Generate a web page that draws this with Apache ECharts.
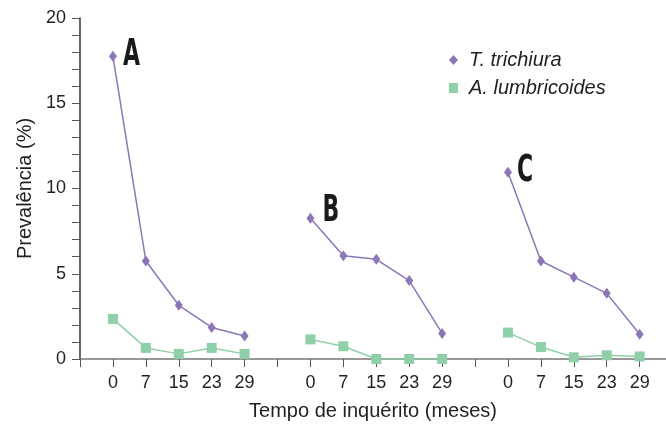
<!DOCTYPE html>
<html><head><meta charset="utf-8">
<script src="https://cdn.jsdelivr.net/npm/echarts@6/dist/echarts.min.js"></script>
<style>html,body{margin:0;padding:0;background:#fff}#c{width:666px;height:426px}</style>
</head><body><div id="c"></div>
<script>
const months = ['0', '7', '15', '23', '29'];
const groups = ['A', 'B', 'C'];
const trichiuraA = [17.75, 5.75, 3.15, 1.85, 1.35];
const trichiuraB = [8.25, 6.05, 5.85, 4.6, 1.5];
const trichiuraC = [10.95, 5.75, 4.8, 3.85, 1.45];
const lumbricoidesA = [2.35, 0.65, 0.3, 0.65, 0.3];
const lumbricoidesB = [1.15, 0.75, 0, 0, 0];
const lumbricoidesC = [1.55, 0.7, 0.1, 0.22, 0.15];
const yTicks = [0, 5, 10, 15, 20];

const perGroup = months.length + 1;
const tGroups = [trichiuraA, trichiuraB, trichiuraC];
function build(groupsVals) {
  const out = [];
  groupsVals.forEach((vals, g) => {
    vals.forEach((v, i) => out.push({ value: [g * perGroup + i + 1, v] }));
    if (g < groupsVals.length - 1) out.push({ value: [g * perGroup + perGroup, '-'] });
  });
  return out;
}
const tickVals = [], labelVals = [], labelMap = {};
for (let k = 0; k <= groups.length * perGroup - 1; k++) tickVals.push(k);
groups.forEach((g, gi) => months.forEach((m, i) => {
  const p = gi * perGroup + i + 1; labelVals.push(p); labelMap[p] = m;
}));

const purple = '#8b76b6', green = '#8fd0a8';
const chart = echarts.init(document.getElementById('c'), null, { renderer: 'canvas' });
chart.setOption({
  animation: false,
  textStyle: { fontFamily: '"Liberation Sans", Arial, sans-serif' },
  grid: { left: 80, right: 0, top: 18, bottom: 67 },
  legend: {
    orient: 'vertical', left: 444, top: 45, itemGap: 8,
    itemWidth: 9, itemHeight: 10,
    textStyle: { fontSize: 20, fontStyle: 'italic', color: '#231f20', padding: [0, 0, 0, 6] },
    data: [{ name: 'T. trichiura', icon: 'diamond' }, { name: 'A. lumbricoides', icon: 'rect' }]
  },
  xAxis: {
    type: 'value', min: 0, max: 17.8,
    name: 'Tempo de inquérito (meses)', nameLocation: 'middle', nameGap: 42,
    nameTextStyle: { fontSize: 20, color: '#231f20' },
    axisLine: { show: true, onZero: false, lineStyle: { color: '#777', width: 1.5 } },
    axisTick: { show: true, length: 8, customValues: tickVals, lineStyle: { color: '#555' } },
    axisLabel: { customValues: labelVals, formatter: v => labelMap[v] || '', fontSize: 18, color: '#231f20', margin: 15 },
    splitLine: { show: false }
  },
  yAxis: {
    type: 'value', min: yTicks[0], max: yTicks[yTicks.length - 1], interval: 5,
    name: 'Prevalência (%)', nameLocation: 'middle', nameGap: 45,
    nameTextStyle: { fontSize: 20, color: '#231f20' },
    axisLine: { show: true, lineStyle: { color: '#333', width: 1.5 } },
    axisTick: { show: true, length: 8, lineStyle: { color: '#555' } },
    minorTick: { show: true, splitNumber: 5, length: 8, lineStyle: { color: '#555' } },
    axisLabel: { fontSize: 18, color: '#231f20', margin: 14 },
    splitLine: { show: false }
  },
  series: [
    {
      name: 'T. trichiura', type: 'line', data: build(tGroups),
      symbol: 'diamond', symbolSize: [8, 11], connectNulls: false,
      itemStyle: { color: purple }, lineStyle: { color: purple, width: 1.5 }
    },
    {
      name: 'A. lumbricoides', type: 'line', data: build([lumbricoidesA, lumbricoidesB, lumbricoidesC]),
      symbol: 'rect', symbolSize: 10, connectNulls: false,
      itemStyle: { color: green }, lineStyle: { color: green, width: 1.5 }
    }
  ]
});

// Panel letters placed next to the first point of each group (position from the chart's scales)
const letterOffsets = [[10, -1], [12, -7], [9, -1]];
const graphics = groups.map((g, gi) => {
  const p = chart.convertToPixel({ seriesIndex: 0 }, [gi * perGroup + 1, tGroups[gi][0]]);
  return {
    type: 'text', x: p[0] + letterOffsets[gi][0], y: p[1] + letterOffsets[gi][1],
    scaleX: 0.66, scaleY: 1,
    style: {
      text: g, fill: '#1a1a1a', font: 'bold 37px "DejaVu Sans Condensed", "DejaVu Sans", sans-serif',
      align: 'left', verticalAlign: 'middle'
    }
  };
});
chart.setOption({ graphic: graphics });
</script></body></html>
